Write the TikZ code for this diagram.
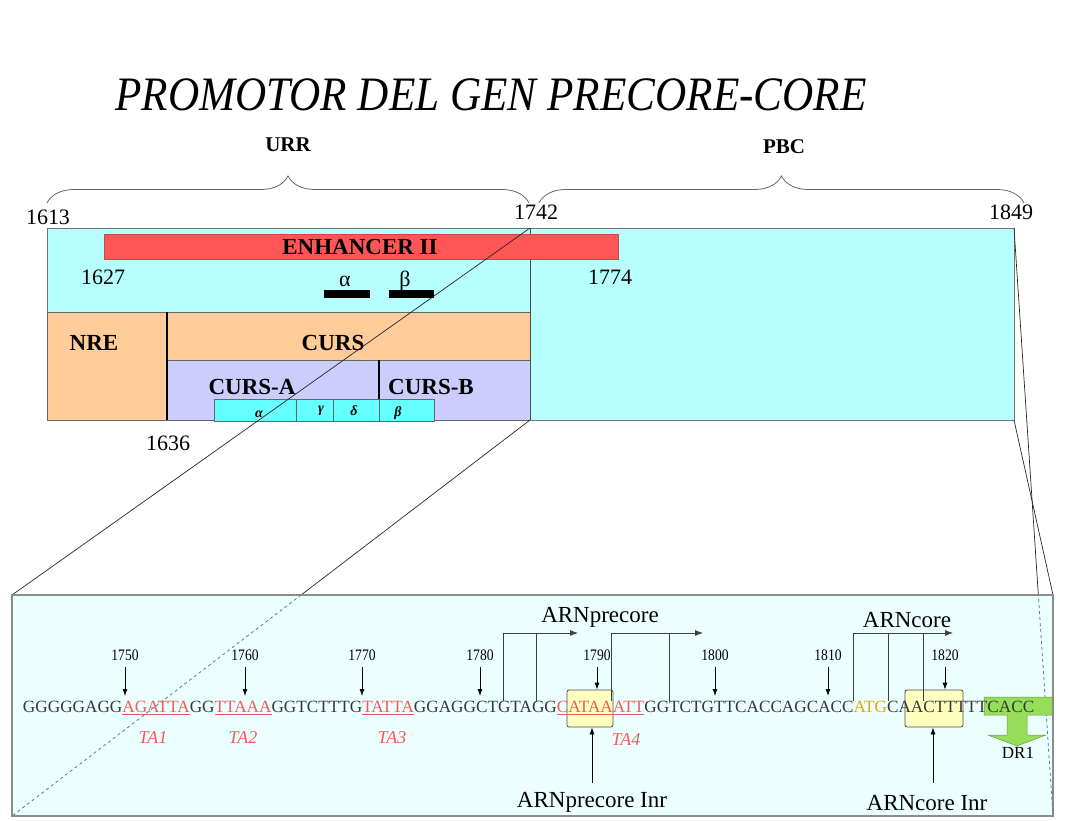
\documentclass[tikz,border=0pt]{standalone}
\usepackage{fontspec}
\usepackage{graphicx}
\setmainfont{Liberation Serif}
\usetikzlibrary{decorations.pathreplacing,arrows.meta,calc}

\definecolor{topcyan}{RGB}{183,255,255}
\definecolor{enh}{RGB}{255,85,85}
\definecolor{peach}{RGB}{255,204,153}
\definecolor{lav}{RGB}{204,204,255}
\definecolor{aqua}{RGB}{102,255,255}
\definecolor{lowbg}{RGB}{235,255,255}
\definecolor{ybox}{RGB}{255,255,190}
\definecolor{drgreen}{RGB}{150,222,90}
\definecolor{tared}{RGB}{245,90,90}
\definecolor{atgcol}{RGB}{225,170,0}
\definecolor{seqgray}{RGB}{55,55,55}
\definecolor{dashcol}{RGB}{80,130,140}

\newcommand{\fs}[1]{\fontsize{#1}{#1}\selectfont}
\newcommand{\pn}[1]{\scalebox{0.85}[1]{#1}}

\begin{document}
\begin{tikzpicture}[x=1pt,y=-1pt,
  boldlbl/.style={font=\fs{23}\bfseries, inner sep=0pt},
  numlbl/.style={font=\fs{22}, inner sep=0pt},
  seqtxt/.style={font=\fs{17.2}, inner sep=0pt, outer sep=0pt, anchor=base west, text=seqgray},
  tatxt/.style={font=\fs{18}\itshape, text=tared, inner sep=0pt},
  posn/.style={font=\fs{16}, inner sep=0pt},
  ptr/.style={-{Latex[length=7pt,width=5pt]}, black, line width=0.8pt},
  brk/.style={draw=black!75, line width=0.8pt},
  bigl/.style={font=\fs{23}, inner sep=0pt},
  link/.style={draw=black!85, line width=0.7pt},
  dlink/.style={draw=dashcol, dashed, line width=0.8pt},
  bracey/.style={draw=black!60, line width=0.8pt, decorate, decoration={brace, amplitude=27pt}},
  ybx/.style={draw=black!70, fill=ybox, rounded corners=2pt, line width=0.8pt, inner sep=0pt},
  smallg/.style={font=\fs{14}\bfseries\itshape, inner sep=0pt}
]
\useasboundingbox (0,0) rectangle (1074,821);

% ---------- title ----------
\node (title) at (491,95) {\fs{48}\itshape\scalebox{0.9}[1]{PROMOTOR DEL GEN PRECORE-CORE}};

% ---------- braces ----------
\coordinate (urrL) at (47,203);
\coordinate (urrR) at (529,203);
\coordinate (pbcL) at (539,203);
\coordinate (pbcR) at (1024,203);
\draw[bracey] (urrL) -- (urrR);
\draw[bracey] (pbcL) -- (pbcR);
\node[boldlbl,font=\fs{21}\bfseries] (urr) at (288,145) {URR};
\node[boldlbl,font=\fs{21}\bfseries] (pbc) at (784,147) {PBC};

\node[numlbl] (n1613) at (48,217) {1613};
\node[numlbl] (n1742) at (536,212) {1742};
\node[numlbl] (n1849) at (1011,212) {1849};

% ---------- top map ----------
\coordinate (tl) at (530,228);
\coordinate (bl) at (530,420);
\coordinate (tr) at (1014,228);
\coordinate (br) at (1014,420);
\filldraw[fill=topcyan, draw=black!55, line width=0.7pt] (47,228) rectangle (br);
\filldraw[fill=peach, draw=black!60, line width=0.7pt] (47,312) rectangle (167,420);
\filldraw[fill=peach, draw=black!60, line width=0.7pt] (167,312) rectangle (530,360);
\filldraw[fill=lav, draw=black!60, line width=0.7pt] (167,360) rectangle (bl);
\draw[black!70, line width=0.8pt] (tl) -- (bl);
\filldraw[fill=aqua, draw=black!60, line width=0.6pt] (214,399) rectangle (434,421);
\draw[black!60, line width=0.6pt] (296,399) -- (296,421) (333,399) -- (333,421) (379,399) -- (379,421);
\draw[black, line width=2.6pt] (167,312) -- (167,420);
\draw[black, line width=2.6pt] (379,360) -- (379,399);
\filldraw[fill=enh, draw=enh!80!black, line width=0.6pt] (104,234) rectangle (618,259);
\fill[black] (324,290) rectangle (370,298);
\fill[black] (389,290) rectangle (434,298);

\node[boldlbl] (enhl) at (360,247) {ENHANCER II};
\node[numlbl] (n1627) at (103,277) {1627};
\node[numlbl] (n1774) at (610,277) {1774};
\node[numlbl,anchor=base] (alph) at (345,287) {α};
\node[numlbl,anchor=base] (bet) at (405,287) {β};
\node[boldlbl] (nre) at (94,343) {NRE};
\node[boldlbl] (curs) at (333,343) {CURS};
\node[boldlbl] (cursa) at (252,387) {CURS-A};
\node[boldlbl] (cursb) at (431,387) {CURS-B};
\node[smallg] (sa) at (259,414) {α};
\node[smallg] (sg) at (321,411) {γ};
\node[smallg] (sd) at (354,411) {δ};
\node[smallg] (sb) at (398,413) {β};
\node[numlbl] (n1636) at (168,443) {1636};

% ---------- lower box ----------
\coordinate (LTL) at (12,595);
\coordinate (LBL) at (12,816);
\coordinate (LTR) at (1053,595);
\coordinate (LBR) at (1053,816);

\draw[link] (tl) -- (LTL);
\draw[link] (bl) -- (LBL);
\draw[link] (br) -- (LTR);
\draw[link] (tr) -- (LBR);

\filldraw[fill=lowbg, draw=black!45, line width=1.8pt] (LTL) rectangle (LBR);
\begin{scope}
  \clip (LTL) rectangle (LBR);
  \draw[dlink] (bl) -- (LBL);
  \draw[dlink] (tr) -- (LBR);
\end{scope}

% highlight boxes
\node[ybx, minimum width=46pt, minimum height=37pt] (yb1) at (590,708.5) {};
\node[ybx, minimum width=58pt, minimum height=37pt] (yb2) at (934,708.5) {};
\filldraw[fill=drgreen, draw=drgreen!70!black, line width=0.5pt]
  (984,697) -- (1052,697) -- (1052,715) -- (1027,715) -- (1027,735) -- (1046,735)
  -- (1017,746) -- (988,735) -- (1007,735) -- (1007,715) -- (984,715) -- cycle;

% sequence
\node[seqtxt] (s1) at (23,712) {GGGGGAGG};
\node[seqtxt, text=tared] (s2) at (s1.base east) {AGATTA};
\node[seqtxt] (s3) at (s2.base east) {GG};
\node[seqtxt, text=tared] (s4) at (s3.base east) {TTAAA};
\node[seqtxt] (s5) at (s4.base east) {GGTCTTTG};
\node[seqtxt, text=tared] (s6) at (s5.base east) {TATTA};
\node[seqtxt] (s7) at (s6.base east) {GGAGGCTGTAGG};
\node[seqtxt, text=tared] (s8) at (s7.base east) {CATAAATT};
\node[seqtxt] (s9) at (s8.base east) {GGTCTGTTCACCAGCACC};
\node[seqtxt, text=atgcol] (s10) at (s9.base east) {ATG};
\node[seqtxt] (s11) at (s10.base east) {CAACTTT};
\node[seqtxt] (s12) at (s11.base east) {TTCACC};
\foreach \s in {s2,s4,s6,s8}
  \draw[tared, line width=0.8pt] ([yshift=-2pt]\s.base west) -- ([yshift=-2pt]\s.base east);

% TA labels
\node[tatxt] (ta1) at (153,738) {TA1};
\node[tatxt] (ta2) at (243,738) {TA2};
\node[tatxt] (ta3) at (392,738) {TA3};
\node[tatxt] (ta4) at (626,740) {TA4};

% position marks
\foreach \p/\x in {1750/125,1760/245,1770/362,1780/480,1800/715,1810/828}{
  \node[posn] (p\p) at (\x,655) {\pn{\p}};
  \coordinate (q\p) at (\x,696);
  \draw[ptr] (p\p.south) ++(0,6) -- (q\p);
}
\node[posn] (p1790) at (597,655) {\pn{1790}};
\draw[ptr] (p1790.south) ++(0,6) -- (p1790.south |- yb1.north);
\node[posn] (p1820) at (945,655) {\pn{1820}};
\draw[ptr] (p1820.south) ++(0,6) -- (p1820.south |- yb2.north);

% transcription start brackets
\node[bigl] (arnp) at (600,617) {ARNprecore};
\node[bigl] (arnc) at (907,620) {ARNcore};
\coordinate (b1a) at (503,633); \coordinate (b1b) at (578,633); \coordinate (b1c) at (536,633);
\coordinate (b2a) at (611,633); \coordinate (b2b) at (703,633); \coordinate (b2c) at (669,633);
\coordinate (b3a) at (853,633); \coordinate (b3b) at (953,633); \coordinate (b3c) at (888,633); \coordinate (b3d) at (923,633);
\draw[brk, -{Latex[length=8pt,width=6pt]}] (b1a |- s1.north) -- (b1a) -- (b1b);
\draw[brk] (b1c) -- (b1c |- s1.north);
\draw[brk, -{Latex[length=8pt,width=6pt]}] (b2a |- s1.north) -- (b2a) -- (b2b);
\draw[brk] (b2c) -- (b2c |- s1.north);
\draw[brk, -{Latex[length=8pt,width=6pt]}] (b3a |- s1.north) -- (b3a) -- (b3b);
\draw[brk] (b3c) -- (b3c |- s1.north);
\draw[brk] (b3d) -- (b3d |- s1.north);

% Inr labels
\node[bigl] (inrp) at (592,802) {ARNprecore Inr};
\node[bigl] (inrc) at (927,803) {ARNcore Inr};
\coordinate (ap) at (592,783);
\coordinate (ac) at (933,783);
\draw[ptr] (ap) -- (ap |- yb1.south);
\draw[ptr] (ac) -- (ac |- yb2.south);

\node[font=\fs{17}, inner sep=0pt] (dr1) at (1018,753) {DR1};
\end{tikzpicture}
\end{document}
